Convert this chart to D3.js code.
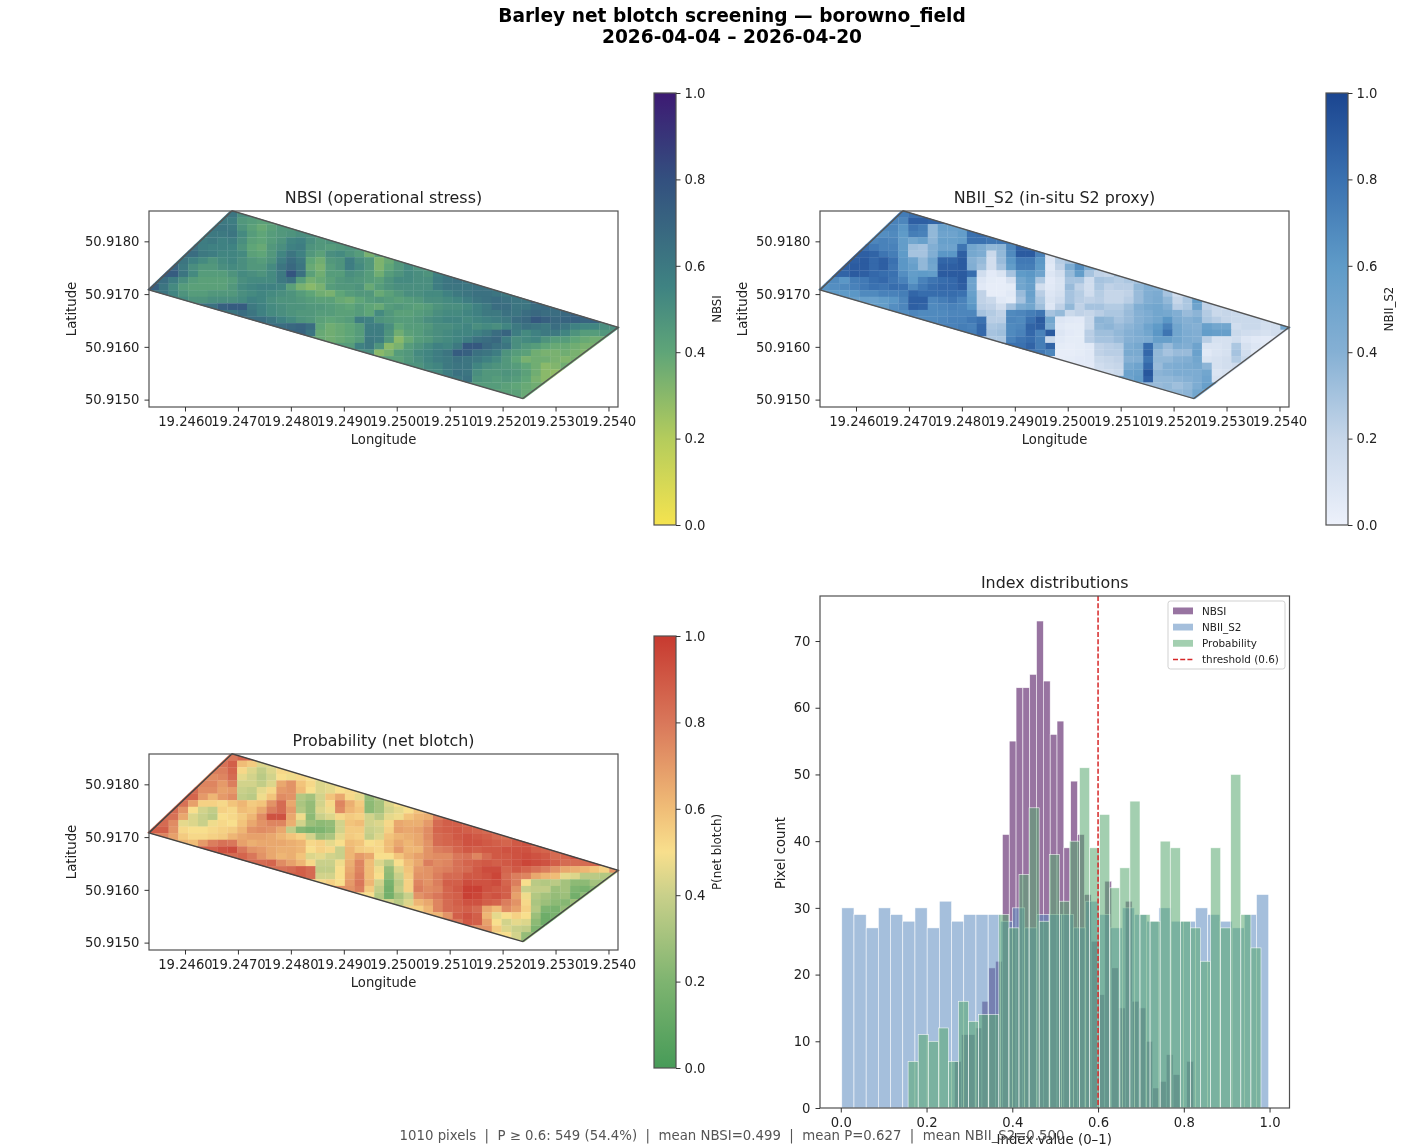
<!DOCTYPE html>
<html><head><meta charset="utf-8">
<script src="https://cdn.jsdelivr.net/npm/d3@7/dist/d3.min.js"></script>
<style>
html,body{margin:0;padding:0;background:#fff}
svg{display:block;filter:blur(0.45px)}
text{font-family:"DejaVu Sans",sans-serif;fill:#222}
.tick text{font-family:"DejaVu Sans",sans-serif;fill:#222}
</style></head><body>
<svg id="c" width="1422" height="1146"></svg>
<script>
const titleLines = ["Barley net blotch screening — borowno_field", "2026-04-04 – 2026-04-20"];
const footerText = "1010 pixels  |  P ≥ 0.6: 549 (54.4%)  |  mean NBSI=0.499  |  mean P=0.627  |  mean NBII_S2=0.500";
const lonTicks = [19.246,19.247,19.248,19.249,19.250,19.251,19.252,19.253,19.254];
const latTicks = [50.915,50.916,50.917,50.918];
const cbarTicks = [0,0.2,0.4,0.6,0.8,1];
const histXTicks = [0,0.2,0.4,0.6,0.8,1];
const histYTicks = [0,10,20,30,40,50,60,70];
const fieldBoundary = [[19.24532,50.91708],[19.24689,50.91858],[19.25418,50.91637],[19.25238,50.91502]];
const rowStart = [8,7,7,6,5,4,4,3,2,2,1,0,1,3,6,8,11,13,15,17,20,22,24,27,29,31,34,36];

const nbsiRows = [
[62,50],
[60,58,46,44,42],
[62,60,48,42,38,42,46],
[60,60,62,52,44,40,44,46,48,50,50],
[58,60,56,58,50,42,40,44,48,54,56,50,46,48],
[64,58,56,56,55,48,40,38,46,50,56,58,48,46,44,46,48],
[66,60,58,54,54,52,42,40,46,54,62,56,46,42,50,52,48,44,34,42],
[62,56,52,48,52,54,50,46,44,48,58,66,60,40,36,46,48,58,50,46,33,38,46],
[70,60,50,46,46,50,52,50,46,46,52,62,68,62,38,34,44,48,58,52,46,33,40,46,52,48],
[74,62,52,44,44,44,48,52,50,48,52,60,78,64,42,36,44,44,50,48,44,36,44,48,52,50,48,56,60],
[66,58,50,44,42,42,42,44,50,52,52,52,60,64,44,35,38,42,46,48,46,44,42,48,52,52,50,50,58,62,64,62],
[72,62,52,44,42,42,42,42,46,52,54,56,56,54,42,34,30,34,44,46,46,48,38,44,48,50,50,50,50,58,62,62,62,64,64],
[62,54,48,44,44,46,46,46,50,52,54,52,50,48,44,40,36,34,40,44,46,46,38,42,46,50,50,52,52,56,60,62,64,64,62,60],
[52,48,48,50,50,50,52,56,54,50,48,48,46,44,42,42,38,36,40,44,46,44,42,44,46,50,50,52,54,58,62,64,66,64,62,62,72],
[64,72,74,74,60,56,52,50,48,48,46,46,44,42,40,44,40,38,44,46,44,42,44,48,50,50,52,56,60,66,66,62,62,66,68,66],
[62,66,62,56,52,50,48,46,46,44,44,42,42,44,40,52,46,42,42,44,46,50,52,52,54,56,60,60,64,62,66,68,66,66,68,72],
[66,62,56,52,48,46,42,40,42,44,58,56,48,46,44,44,46,50,52,54,54,52,54,56,58,60,66,68,76,72,68,70,72,70,72,68],
[66,68,70,66,40,36,38,40,44,58,58,50,40,44,44,46,50,50,52,54,50,52,50,54,60,64,62,60,66,62,56,54,54,50,50],
[70,62,38,36,38,40,44,58,58,48,36,42,44,48,50,52,54,54,56,60,66,70,58,52,56,60,60,54,48,44,44,46],
[38,36,38,40,44,60,58,46,30,38,44,46,50,52,54,58,64,66,68,58,50,52,54,48,44,44,40,38,36],
[44,56,60,48,30,34,44,48,52,56,54,60,76,76,68,64,62,50,46,44,40,38,38,36,34,34],
[50,30,34,44,46,52,54,58,62,74,72,64,62,58,48,44,42,36,34,34,36,34,32],
[42,42,46,50,54,58,60,64,62,60,56,52,46,40,34,36,36,34,32,34],
[48,52,54,60,62,62,54,50,48,46,44,40,36,30,32,36],
[52,58,64,62,50,46,46,48,46,42,36,30,28],
[60,64,48,46,44,46,44,40,34,30],
[44,44,42,40,38,36],
[42,42,38]
];
const nbiiRows = [
[75,80],
[72,70,88,88,86],
[70,62,78,74,36,55,55],
[66,68,60,74,72,36,52,52,58,80,82],
[70,72,70,58,50,55,38,55,55,58,80,80,78,78],
[82,76,72,72,58,32,30,42,52,52,78,50,44,36,38,70,88],
[88,86,78,74,60,30,30,42,62,62,88,48,44,18,36,68,90,90,72,10],
[88,90,84,88,80,62,52,36,52,85,85,90,40,35,14,34,62,76,76,62,8,25,30],
[88,90,90,84,88,78,62,56,36,50,88,88,90,42,32,14,30,58,74,74,60,6,22,44,66,44],
[86,90,88,84,82,80,66,58,60,58,90,90,90,82,15,5,10,30,60,62,52,8,14,35,58,30,22,20,30],
[68,62,74,76,82,84,78,72,60,72,78,82,84,90,52,8,4,3,12,50,58,28,5,10,30,30,15,30,28,25,28,30],
[64,66,68,72,76,80,78,82,80,68,76,82,84,84,88,52,6,3,3,4,50,56,14,6,10,34,22,14,28,22,24,24,36,42,40],
[60,60,62,68,68,72,72,74,85,82,82,82,82,80,55,22,3,3,6,34,55,24,8,12,30,25,15,25,20,20,22,34,42,45,30,15],
[56,55,54,58,62,70,88,88,70,74,78,72,58,22,18,6,4,30,52,28,10,15,30,24,22,24,20,20,24,34,42,46,36,20,28,58,25],
[58,66,70,88,86,68,70,72,70,62,24,22,14,30,45,50,32,8,22,36,22,30,30,26,26,32,42,48,50,42,24,28,52,22,18,15],
[66,70,68,68,68,70,70,70,30,26,22,68,70,74,78,30,35,18,22,20,24,28,28,34,40,44,50,48,42,34,38,26,18,20,18,18],
[68,70,72,72,76,80,24,24,70,68,80,90,50,8,6,5,18,38,36,30,34,40,45,50,62,45,40,44,28,24,20,18,18,18,15,18],
[72,74,72,84,28,30,68,70,86,88,44,6,4,4,18,36,38,34,38,42,52,60,72,50,42,40,55,50,50,15,18,18,14,14,50],
[74,84,30,32,68,72,84,72,90,8,5,4,24,32,32,36,40,44,50,62,78,50,44,42,58,56,56,18,15,14,12,14],
[28,28,72,78,82,74,18,6,4,4,24,30,30,34,40,42,44,56,56,50,44,42,24,12,12,15,8,6,5],
[80,86,74,86,4,3,4,6,22,24,26,44,48,82,44,34,44,42,52,10,10,12,28,12,8,6],
[76,70,3,3,4,6,22,24,24,46,46,84,36,30,34,34,54,6,10,12,30,14,6],
[3,4,5,6,18,20,22,40,42,78,36,36,40,42,50,10,12,14,26,18],
[5,15,18,20,48,52,84,34,42,44,46,48,38,12,14,16],
[15,18,54,56,92,38,40,44,44,44,50,10,12],
[52,58,88,36,36,38,40,44,52,12],
[34,36,32,36,44,55],
[36,38,50]
];
const probRows = [
[80,86],
[82,88,60,56,44],
[78,86,52,44,38,44,52],
[74,76,84,46,42,36,42,50,48,52,50],
[76,76,70,78,42,42,38,44,66,72,58,52,44,46],
[84,74,74,68,70,40,38,46,52,70,72,60,50,44,46,50,52],
[86,70,62,70,74,38,36,48,58,74,72,34,30,42,58,66,52,46,26,34],
[82,68,54,54,52,58,62,56,58,72,84,66,32,26,42,52,76,64,56,24,30,44,50],
[84,72,50,42,38,54,52,60,58,66,78,84,70,34,26,44,48,74,62,58,24,30,42,46,50,58],
[82,66,44,40,36,50,52,56,62,74,92,92,66,48,24,40,44,52,56,54,42,36,46,48,58,62,64,78,84],
[84,74,46,44,40,48,52,50,58,66,72,76,76,64,42,28,24,26,42,58,60,42,44,52,66,64,64,70,84,88,88,86],
[88,88,72,52,50,50,52,54,56,62,72,74,72,66,38,22,18,20,24,42,56,56,40,42,54,68,66,68,74,86,88,90,88,86,84],
[76,68,56,52,52,54,56,62,66,68,68,66,62,58,54,42,28,32,46,56,54,38,44,58,62,64,66,74,84,86,90,92,90,88,84,82],
[62,60,70,78,82,80,68,64,66,66,66,64,62,52,54,46,50,60,58,50,52,60,66,62,66,72,84,86,88,92,92,90,88,86,90,92,88],
[88,92,94,80,72,70,66,64,64,62,50,54,52,40,62,56,54,52,60,70,62,62,72,78,80,86,90,88,90,90,92,92,92,88,86,84],
[84,86,80,72,66,62,64,58,44,46,42,40,62,70,66,50,50,58,64,68,72,74,74,80,82,76,84,90,90,92,94,92,90,84,86,92],
[84,86,74,68,62,52,40,40,48,64,76,60,44,36,50,60,66,78,74,76,82,86,88,90,88,90,92,96,94,92,88,84,84,84,86,80],
[82,84,88,84,38,38,50,66,76,60,48,26,44,58,70,72,76,78,82,84,90,94,94,86,90,86,82,78,72,66,64,62,58,54,72],
[88,84,42,42,50,68,78,60,50,24,40,56,72,72,78,84,84,90,90,92,96,84,78,76,66,62,60,46,44,36,36,34],
[52,54,50,70,80,62,42,18,36,54,76,72,78,88,88,94,92,92,94,86,78,50,36,34,36,30,24,24,30],
[72,78,56,38,16,38,54,78,74,76,86,90,98,98,92,90,88,72,40,38,38,28,30,20,18,24],
[50,34,16,30,40,72,76,80,86,88,98,96,90,92,88,68,48,34,30,26,28,16,24],
[42,36,44,62,66,76,84,88,92,92,88,86,78,72,52,32,28,24,22,28],
[54,62,76,84,86,88,84,66,60,74,68,54,34,20,18,26],
[62,72,88,92,88,62,46,50,54,50,28,14,18],
[80,90,88,68,50,42,46,44,24,14],
[72,56,44,40,38,20],
[50,42,26]
];

const nbsiStops = ["#f5e34f","#b4cc5c","#5fa578","#3f8382","#33507f","#3d1a73"];
const nbsiStopPos = [0,0.2,0.4,0.55,0.8,1];
const nbiiStops = ["#edf1fb","#c6d6e9","#85b0d4","#5f9bc8","#3a71b0","#1b4590"];
const nbiiStopPos = [0,0.2,0.4,0.6,0.8,1];
const probStops = ["#479b58","#7eb470","#c9d08a","#f8df8d","#f0bd77","#d9775a","#c73a30"];
const probStopPos = [0,0.2,0.4,0.5,0.6,0.8,1];

const nbsiCounts = [7,11,11,12,16,21,22,41,55,63,63,65,73,64,56,58,39,49,41,32,25,17,34,21,15,31,16,15,10,3,4,8,5,0,7];
const nbiiCounts = [30,29,27,30,29,28,30,27,31,28,29,29,29,28,30,27,29,29,29,27,31,29,27,30,29,28,30,28,28,30,29,28,27,29,32];
const probCounts = [7,11,10,12,7,16,13,14,14,29,27,35,45,28,38,31,40,51,39,44,33,36,46,29,28,40,39,28,27,22,39,27,50,29,24];
const nbsiRange = [0.2655,0.8227];
const nbiiRange = [0.0023,0.998];
const probRange = [0.157,0.98];

const svg = d3.select("#c");
const defs = svg.append("defs");
const fontTick = 13.2;
const lonDomain = [19.24532,19.25418];
const latDomain = [50.91486,50.918575];
const cellLon = 0.000185, cellLat = 0.000125;

titleLines.forEach((t,i)=>svg.append("text").attr("x",732).attr("y",21.5+i*21.5).attr("text-anchor","middle")
  .attr("font-size",18.6).attr("font-weight","bold").style("fill","#000").text(t));

function styleAxis(g){
  g.selectAll(".domain").remove();
  g.selectAll("line").attr("stroke","#333").attr("stroke-width",1);
  g.selectAll("text").attr("font-size",fontTick);
}
function frame(x,y,w,h){
  svg.append("rect").attr("x",x).attr("y",y).attr("width",w).attr("height",h)
    .attr("fill","none").attr("stroke","#505050").attr("stroke-width",1.2);
}
function heatPanel(cfg){
  const L=cfg.left,T=cfg.top,W=469,H=196;
  const x=d3.scaleLinear().domain(lonDomain).range([L,L+W]);
  const y=d3.scaleLinear().domain(latDomain).range([T+H,T]);
  const col=d3.scaleLinear().domain(cfg.pos).range(cfg.stops).clamp(true);
  const line=d3.line().x(d=>x(d[0])).y(d=>y(d[1])).curve(d3.curveLinearClosed);
  const mx=d3.mean(fieldBoundary,d=>x(d[0])), my=d3.mean(fieldBoundary,d=>y(d[1]));
  const grow=1.008;
  const clipPts=fieldBoundary.map(d=>[mx+(x(d[0])-mx)*grow,my+(y(d[1])-my)*grow]);
  defs.append("clipPath").attr("id","clip"+cfg.id).append("path")
    .attr("d",d3.line().curve(d3.curveLinearClosed)(clipPts));
  const g=svg.append("g").attr("clip-path",`url(#clip${cfg.id})`);
  const lastRow=cfg.rows.length-1;
  cfg.rows.forEach((row,r)=>row.forEach((v,i)=>{
    const c=rowStart[r]+i;
    // edge cells are carried outward so the clip at the field boundary decides their extent
    const left=i===0?c-3:c, right=i===row.length-1?c+4:c+1;
    const x0=x(lonDomain[0]+left*cellLon), x1=x(lonDomain[0]+right*cellLon);
    const y0=y(latDomain[1]-r*cellLat), y1=y(latDomain[1]-(r+(r===lastRow?2:1))*cellLat);
    g.append("rect").attr("x",x0).attr("y",y0).attr("width",x1-x0+0.3).attr("height",y1-y0+0.3)
      .attr("fill",col(v/100));
  }));
  svg.append("path").attr("d",line(fieldBoundary))
    .attr("fill","none").attr("stroke",cfg.lineColor).attr("stroke-width",1.4);
  frame(L,T,W,H);
  svg.append("g").attr("transform",`translate(0,${T+H})`)
    .call(d3.axisBottom(x).tickValues(lonTicks).tickFormat(d3.format(".4f")).tickSizeOuter(0).tickSize(4.5).tickPadding(5)).call(styleAxis);
  svg.append("g").attr("transform",`translate(${L},0)`)
    .call(d3.axisLeft(y).tickValues(latTicks).tickFormat(d3.format(".4f")).tickSizeOuter(0).tickSize(4.5).tickPadding(5)).call(styleAxis);
  svg.append("text").attr("x",L+W/2).attr("y",T-8).attr("text-anchor","middle").attr("font-size",15.9).text(cfg.title);
  svg.append("text").attr("x",L+W/2).attr("y",T+H+37).attr("text-anchor","middle").attr("font-size",13.2).text("Longitude");
  svg.append("text").attr("transform",`translate(${L-73},${T+H/2}) rotate(-90)`).attr("text-anchor","middle").attr("font-size",13.2).text("Latitude");
  const cbX=cfg.cbX,cbT=cfg.cbTop,cbW=22,cbH=432;
  const cy=d3.scaleLinear().domain([0,1]).range([cbT+cbH,cbT]);
  const id="g"+cfg.id;
  const grad=defs.append("linearGradient").attr("id",id).attr("x1",0).attr("y1",1).attr("x2",0).attr("y2",0);
  cfg.pos.forEach((p,i)=>grad.append("stop").attr("offset",p).attr("stop-color",cfg.stops[i]));
  svg.append("rect").attr("x",cbX).attr("y",cbT).attr("width",cbW).attr("height",cbH).attr("fill",`url(#${id})`);
  frame(cbX,cbT,cbW,cbH);
  svg.append("g").attr("transform",`translate(${cbX+cbW},0)`)
    .call(d3.axisRight(cy).tickValues(cbarTicks).tickFormat(d3.format(".1f")).tickSizeOuter(0).tickSize(4.5).tickPadding(4)).call(styleAxis);
  svg.append("text").attr("transform",`translate(${cbX+cbW+45},${cfg.cbLabelY}) rotate(-90)`).attr("text-anchor","middle")
    .attr("font-size",11.8).text(cfg.cbLabel);
}
heatPanel({id:"a",left:149,rows:nbsiRows,stops:nbsiStops,pos:nbsiStopPos,top:211,title:"NBSI (operational stress)",cbX:654,cbTop:93,cbLabel:"NBSI",cbLabelY:309,lineColor:"#555"});
heatPanel({id:"b",left:820,rows:nbiiRows,stops:nbiiStops,pos:nbiiStopPos,top:211,title:"NBII_S2 (in-situ S2 proxy)",cbX:1326,cbTop:93,cbLabel:"NBII_S2",cbLabelY:309,lineColor:"#555"});
heatPanel({id:"c",left:149,rows:probRows,stops:probStops,pos:probStopPos,top:754,title:"Probability (net blotch)",cbX:654,cbTop:636,cbLabel:"P(net blotch)",cbLabelY:852,lineColor:"#444"});

(function(){
  const L=820,T=596,W=469.5,H=512;
  const x=d3.scaleLinear().domain([-0.0485,1.0465]).range([L,L+W]);
  const y=d3.scaleLinear().domain([0,76.75]).range([T+H,T]);
  const series=[
    {name:"NBSI",counts:nbsiCounts,range:nbsiRange,color:"#440154"},
    {name:"NBII_S2",counts:nbiiCounts,range:nbiiRange,color:"#5b8ac0"},
    {name:"Probability",counts:probCounts,range:probRange,color:"#58a86f"}
  ];
  series.forEach(s=>{
    const w=(s.range[1]-s.range[0])/s.counts.length;
    svg.append("g").selectAll("rect").data(s.counts).join("rect")
      .attr("x",(d,i)=>x(s.range[0]+i*w)).attr("y",d=>y(d))
      .attr("width",x(w)-x(0)).attr("height",d=>y(0)-y(d))
      .attr("fill",s.color).attr("fill-opacity",0.55)
      .attr("stroke","#fff").attr("stroke-width",0.6).attr("stroke-opacity",0.9);
  });
  svg.append("line").attr("x1",x(0.6)).attr("x2",x(0.6)).attr("y1",T).attr("y2",T+H)
    .attr("stroke","#d62728").attr("stroke-width",1.5).attr("stroke-dasharray","5,2.2");
  frame(L,T,W,H);
  svg.append("g").attr("transform",`translate(0,${T+H})`)
    .call(d3.axisBottom(x).tickValues(histXTicks).tickFormat(d3.format(".1f")).tickSizeOuter(0).tickSize(4.5).tickPadding(5)).call(styleAxis);
  svg.append("g").attr("transform",`translate(${L},0)`)
    .call(d3.axisLeft(y).tickValues(histYTicks).tickFormat(d3.format("d")).tickSizeOuter(0).tickSize(4.5).tickPadding(5)).call(styleAxis);
  svg.append("text").attr("x",L+W/2).attr("y",T-8).attr("text-anchor","middle").attr("font-size",15.9).text("Index distributions");
  svg.append("text").attr("x",L+W/2-0.5).attr("y",1144).attr("text-anchor","middle").attr("font-size",13.3).text("Index value (0–1)");
  svg.append("text").attr("transform",`translate(785,${T+H/2+1}) rotate(-90)`).attr("text-anchor","middle").attr("font-size",13.2).text("Pixel count");
  const lg=svg.append("g");
  lg.append("rect").attr("x",1168).attr("y",601).attr("width",117).attr("height",68).attr("rx",2.5)
    .attr("fill","#fff").attr("fill-opacity",0.8).attr("stroke","#ccc").attr("stroke-width",0.9);
  series.forEach((s,i)=>{
    lg.append("rect").attr("x",1173).attr("y",607.5+i*16.2).attr("width",20).attr("height",6.8)
      .attr("fill",s.color).attr("fill-opacity",0.55);
    lg.append("text").attr("x",1202).attr("y",614.6+i*16.2).attr("font-size",10.4).text(s.name);
  });
  lg.append("line").attr("x1",1173).attr("x2",1193).attr("y1",659.5).attr("y2",659.5)
    .attr("stroke","#d62728").attr("stroke-width",1.5).attr("stroke-dasharray","5,2.2");
  lg.append("text").attr("x",1202).attr("y",663.2).attr("font-size",10.4).text("threshold (0.6)");
})();

svg.append("text").attr("x",732).attr("y",1140).attr("text-anchor","middle").attr("font-size",13.3)
  .attr("xml:space","preserve").style("white-space","pre").style("fill","#555").text(footerText);
</script>
</body></html>
